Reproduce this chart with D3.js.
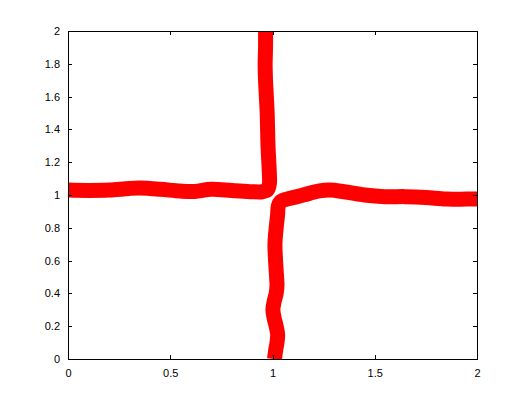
<!DOCTYPE html>
<meta charset="utf-8">
<style>
body { margin: 0; background: #fff; }
.axis text { font-family: "Liberation Sans", Arial, sans-serif; font-size: 11px; fill: #000; }
.axis path, .axis line { stroke: #000; shape-rendering: crispEdges; }
</style>
<svg width="527" height="407"></svg>
<script src="https://d3js.org/d3.v7.min.js"></script>
<script>
// upper-left branch: horizontal band from x=0 then up to y=2
var upperX = [0.0, 0.1, 0.2, 0.3, 0.35, 0.45, 0.55, 0.62, 0.7, 0.8, 0.9, 0.95, 0.975, 0.985, 0.985, 0.982, 0.978, 0.976, 0.974, 0.97, 0.966, 0.964, 0.966, 0.966];
var upperY = [1.03, 1.028, 1.03, 1.04, 1.042, 1.035, 1.024, 1.022, 1.035, 1.028, 1.02, 1.02, 1.03, 1.07, 1.12, 1.2, 1.3, 1.4, 1.5, 1.6, 1.7, 1.8, 1.9, 2.0];

// lower-right branch: up from y=0 then right to x=2
var lowerX = [1.01, 1.015, 1.022, 1.025, 1.018, 1.008, 1.002, 1.008, 1.018, 1.022, 1.02, 1.015, 1.012, 1.018, 1.025, 1.028, 1.04, 1.07, 1.12, 1.18, 1.23, 1.28, 1.35, 1.45, 1.55, 1.65, 1.75, 1.85, 1.95, 2.0];
var lowerY = [0.0, 0.05, 0.1, 0.15, 0.2, 0.25, 0.3, 0.35, 0.4, 0.45, 0.5, 0.6, 0.7, 0.8, 0.88, 0.93, 0.96, 0.975, 0.99, 1.01, 1.025, 1.03, 1.02, 1.0, 0.99, 0.99, 0.985, 0.975, 0.975, 0.975];

var xTicks = [0, 0.5, 1, 1.5, 2];
var yTicks = [0, 0.2, 0.4, 0.6, 0.8, 1, 1.2, 1.4, 1.6, 1.8, 2];

var svg = d3.select("svg");
var margin = {top: 31, right: 50, bottom: 48, left: 68};
var width = +svg.attr("width") - margin.left - margin.right;
var height = +svg.attr("height") - margin.top - margin.bottom;

var g = svg.append("g").attr("transform", "translate(" + margin.left + "," + margin.top + ")");

var x = d3.scaleLinear().domain([0, 2]).range([0, width]);
var y = d3.scaleLinear().domain([0, 2]).range([height, 0]);

var line = d3.line()
    .x(function(d) { return x(d[0]); })
    .y(function(d) { return y(d[1]); })
    .curve(d3.curveCatmullRom);

[d3.zip(upperX, upperY), d3.zip(lowerX, lowerY)].forEach(function(pts) {
    g.append("path")
        .datum(pts)
        .attr("fill", "none")
        .attr("stroke", "#ff0000")
        .attr("stroke-width", 15)
        .attr("stroke-linejoin", "round")
        .attr("stroke-linecap", "butt")
        .attr("d", line);
});

var fmt = function(d) { return String(d); };

g.append("g").attr("class", "axis")
    .attr("transform", "translate(0," + height + ")")
    .call(d3.axisBottom(x).tickValues(xTicks).tickFormat(fmt).tickSizeInner(-4).tickSizeOuter(0).tickPadding(10));
g.append("g").attr("class", "axis")
    .call(d3.axisTop(x).tickValues(xTicks).tickFormat("").tickSizeInner(-4).tickSizeOuter(0));
g.append("g").attr("class", "axis")
    .call(d3.axisLeft(y).tickValues(yTicks).tickFormat(fmt).tickSizeInner(-4).tickSizeOuter(0).tickPadding(8));
g.append("g").attr("class", "axis")
    .attr("transform", "translate(" + width + ",0)")
    .call(d3.axisRight(y).tickValues(yTicks).tickFormat("").tickSizeInner(-4).tickSizeOuter(0));
</script>
